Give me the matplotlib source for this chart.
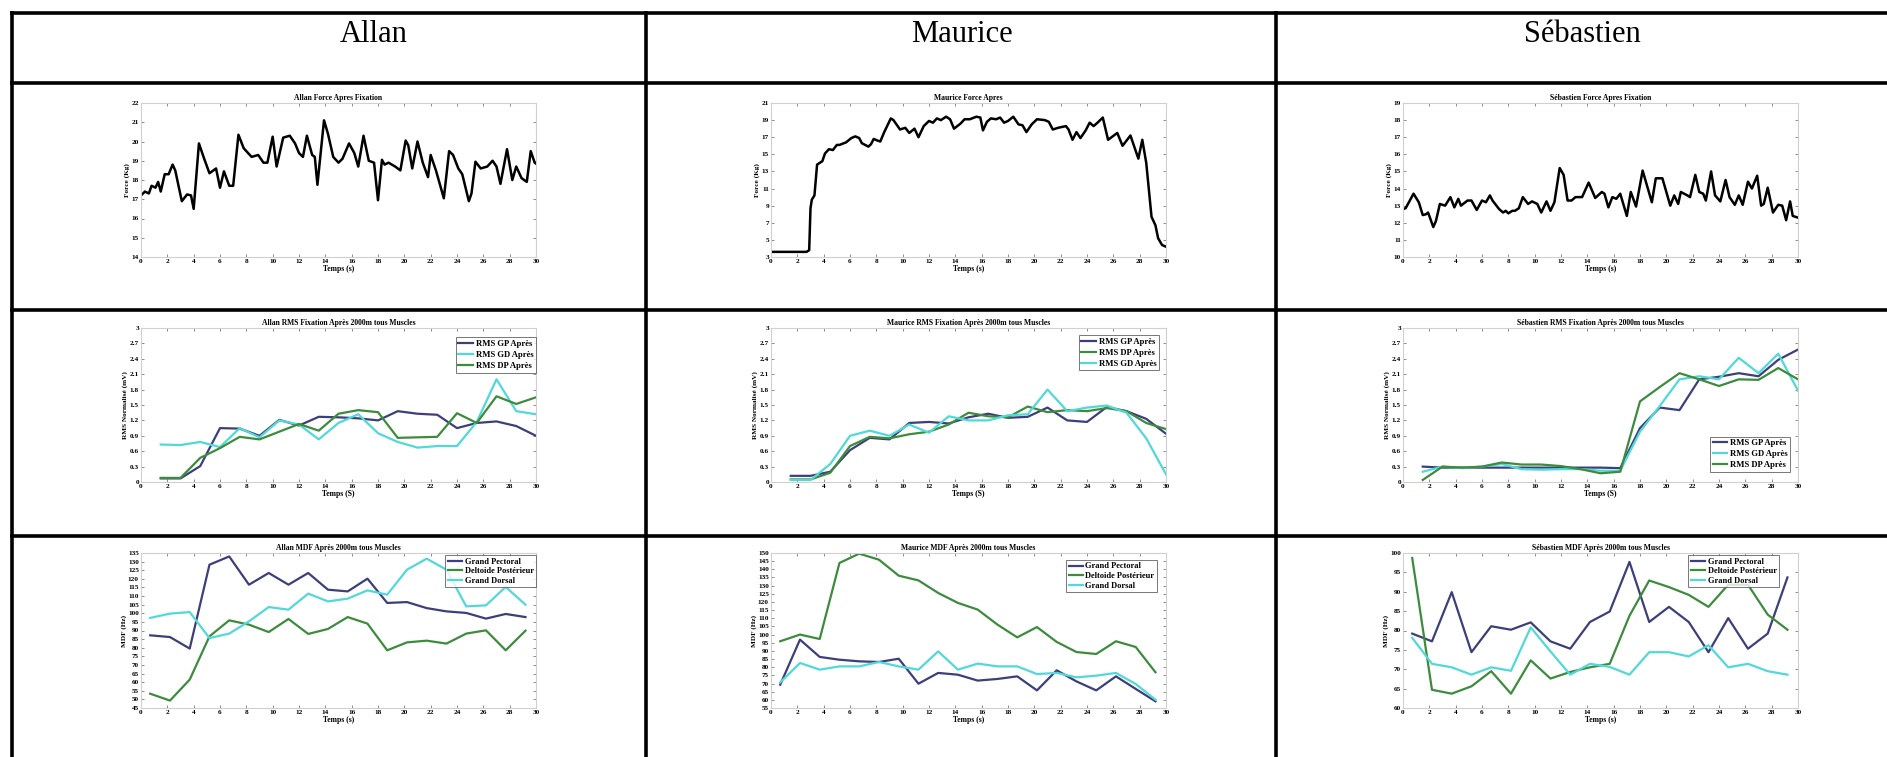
import matplotlib
matplotlib.use('Agg')
import matplotlib.pyplot as plt

# ---------------- DATA ----------------
names = ["Allan", "Maurice", "Sébastien"]

# Force (Kg) vs time (s)
allan_force_t = [0, 0.3, 0.6, 0.8, 1.1, 1.3, 1.5, 1.8, 2.1, 2.4, 2.6, 3.1, 3.5, 3.8, 4.0, 4.4, 4.8, 5.2, 5.7, 6.0,
                 6.3, 6.7, 7.0, 7.4, 7.8, 8.4, 8.9, 9.3, 9.6, 10.0, 10.3, 10.8, 11.3, 11.7, 12.0, 12.3, 12.6, 13.0, 13.2, 13.4,
                 13.9, 14.2, 14.6, 15.0, 15.3, 15.8, 16.2, 16.5, 16.9, 17.3, 17.7, 18.0, 18.3, 18.5, 18.8, 19.3, 19.7, 20.1, 20.3, 20.6,
                 21.0, 21.4, 21.8, 22.0, 22.4, 23.0, 23.4, 23.7, 24.1, 24.4, 24.9, 25.1, 25.4, 25.8, 26.3, 26.7, 27.0, 27.3, 27.8, 28.2,
                 28.5, 28.9, 29.3, 29.6, 29.9, 30.0]
allan_force_v = [17.2, 17.4, 17.3, 17.7, 17.6, 17.9, 17.4, 18.3, 18.3, 18.8, 18.5, 16.9, 17.25, 17.2, 16.5, 19.9, 19.1, 18.35, 18.6, 17.6,
                 18.45, 17.7, 17.7, 20.35, 19.65, 19.2, 19.3, 18.9, 18.9, 20.25, 18.7, 20.2, 20.3, 19.9, 19.4, 19.2, 20.3, 19.3, 19.2, 17.75,
                 21.1, 20.4, 19.2, 18.9, 19.1, 19.9, 19.4, 18.7, 20.3, 19.0, 18.9, 16.95, 19.05, 18.8, 18.9, 18.7, 18.5, 20.05, 19.8, 18.6,
                 20.0, 18.9, 18.15, 19.3, 18.5, 17.05, 19.5, 19.3, 18.6, 18.3, 16.9, 17.3, 18.95, 18.6, 18.7, 19.0, 18.7, 17.8, 19.6, 18.0,
                 18.7, 18.1, 17.9, 19.5, 18.9, 18.85]

maurice_force_t = [0, 2.7, 2.9, 3.0, 3.1, 3.3, 3.5, 3.7, 3.9, 4.1, 4.4, 4.7, 5.0, 5.2, 5.7, 6.1, 6.4, 6.7, 6.9, 7.4,
                   7.6, 7.8, 8.1, 8.3, 8.6, 9.1, 9.3, 9.8, 10.2, 10.5, 10.9, 11.2, 11.6, 12.0, 12.3, 12.6, 12.9, 13.3, 13.6, 13.9,
                   14.4, 14.7, 15.1, 15.6, 15.9, 16.1, 16.4, 16.7, 17.1, 17.4, 17.7, 18.0, 18.4, 18.8, 19.1, 19.4, 19.8, 20.2, 20.8, 21.1,
                   21.4, 21.8, 22.4, 22.6, 22.9, 23.2, 23.5, 23.9, 24.2, 24.5, 24.8, 25.2, 25.6, 26.3, 26.7, 27.3, 27.9, 28.2, 28.5, 28.9,
                   29.2, 29.4, 29.7, 30.0]
maurice_force_v = [3.6, 3.6, 3.8, 8.7, 9.7, 10.2, 13.8, 14.0, 14.2, 15.1, 15.6, 15.5, 16.1, 16.1, 16.4, 16.9, 17.1, 16.9, 16.3, 15.9,
                   16.2, 16.8, 16.6, 16.5, 17.6, 19.2, 19.0, 17.9, 18.1, 17.5, 18.0, 17.0, 18.3, 18.9, 18.7, 19.2, 19.0, 19.4, 19.1, 18.0,
                   18.6, 19.1, 19.1, 19.4, 19.3, 17.8, 18.8, 19.2, 19.1, 19.3, 18.7, 18.9, 19.4, 18.5, 18.4, 17.6, 18.5, 19.1, 19.0, 18.8,
                   17.9, 18.1, 18.3, 17.9, 16.7, 17.6, 16.9, 17.8, 18.7, 18.3, 18.7, 19.3, 16.7, 17.5, 16.0, 17.2, 14.5, 16.7, 14.0, 7.7,
                   6.7, 5.2, 4.4, 4.2]

seb_force_t = [0, 0.2, 0.8, 1.2, 1.5, 1.75, 1.9, 2.0, 2.3, 2.5, 2.8, 3.2, 3.6, 3.9, 4.2, 4.4, 4.9, 5.2, 5.6, 6.0,
               6.3, 6.6, 6.8, 7.3, 7.6, 7.8, 8.0, 8.3, 8.5, 8.8, 9.1, 9.5, 9.8, 10.2, 10.5, 10.9, 11.2, 11.5, 11.9, 12.2,
               12.5, 12.8, 13.1, 13.6, 14.1, 14.6, 15.1, 15.3, 15.6, 15.9, 16.2, 16.5, 17.0, 17.3, 17.7, 18.2, 18.9, 19.2, 19.7, 20.3,
               20.6, 20.9, 21.1, 21.6, 21.8, 22.2, 22.5, 22.8, 23.0, 23.4, 23.7, 24.1, 24.5, 24.8, 25.2, 25.5, 25.8, 26.2, 26.5, 26.9,
               27.2, 27.4, 27.7, 28.1, 28.5, 28.8, 29.1, 29.4, 29.6, 30.0]
seb_force_v = [12.8, 12.85, 13.7, 13.2, 12.45, 12.5, 12.6, 12.4, 11.75, 12.1, 13.1, 13.0, 13.5, 12.9, 13.4, 13.0, 13.3, 13.3, 12.75, 13.3,
               13.2, 13.6, 13.3, 12.8, 12.6, 12.7, 12.55, 12.7, 12.7, 12.85, 13.5, 13.1, 13.25, 13.1, 12.6, 13.25, 12.7, 13.2, 15.2, 14.8,
               13.3, 13.3, 13.5, 13.5, 14.35, 13.45, 13.8, 13.7, 12.9, 13.5, 13.4, 13.7, 12.4, 13.8, 12.95, 15.05, 13.2, 14.6, 14.6, 13.0,
               13.6, 13.1, 13.8, 13.6, 13.5, 14.8, 13.8, 13.7, 13.3, 15.0, 13.6, 13.25, 14.5, 13.5, 13.05, 13.6, 13.05, 14.4, 14.0, 14.75,
               13.0, 13.1, 14.05, 12.6, 13.05, 13.0, 12.15, 13.25, 12.4, 12.3]

# RMS normalised (mV) every 1.5 s
rms_t = [1.5, 3, 4.5, 6, 7.5, 9, 10.5, 12, 13.5, 15, 16.5, 18, 19.5, 21, 22.5, 24, 25.5, 27, 28.5, 30]
allan_rms_gp = [0.07, 0.07, 0.31, 1.05, 1.04, 0.9, 1.21, 1.1, 1.27, 1.26, 1.24, 1.2, 1.38, 1.33, 1.31, 1.05, 1.15, 1.18, 1.09, 0.9]
allan_rms_gd = [0.73, 0.72, 0.78, 0.68, 1.05, 0.87, 1.2, 1.12, 0.83, 1.15, 1.32, 0.95, 0.78, 0.67, 0.7, 0.7, 1.17, 2.0, 1.38, 1.32]
allan_rms_dp = [0.08, 0.08, 0.47, 0.66, 0.88, 0.83, 0.98, 1.13, 1.0, 1.33, 1.4, 1.36, 0.86, 0.87, 0.88, 1.34, 1.15, 1.67, 1.52, 1.65]

maurice_rms_gp = [0.12, 0.12, 0.2, 0.62, 0.86, 0.83, 1.15, 1.17, 1.14, 1.26, 1.33, 1.25, 1.27, 1.45, 1.2, 1.17, 1.46, 1.38, 1.23, 0.94]
maurice_rms_dp = [0.05, 0.05, 0.18, 0.7, 0.88, 0.85, 0.93, 0.98, 1.12, 1.35, 1.28, 1.26, 1.47, 1.36, 1.4, 1.38, 1.44, 1.38, 1.15, 1.03]
maurice_rms_gd = [0.04, 0.04, 0.35, 0.9, 1.0, 0.9, 1.12, 0.96, 1.28, 1.2, 1.2, 1.3, 1.32, 1.8, 1.38, 1.45, 1.49, 1.35, 0.85, 0.15]

seb_rms_gp = [0.3, 0.28, 0.28, 0.28, 0.28, 0.28, 0.28, 0.28, 0.28, 0.28, 0.27, 1.05, 1.45, 1.4, 2.0, 2.05, 2.12, 2.06, 2.38, 2.58]
seb_rms_gd = [0.2, 0.3, 0.27, 0.3, 0.35, 0.25, 0.24, 0.25, 0.25, 0.22, 0.22, 0.98, 1.48, 2.0, 2.06, 2.0, 2.42, 2.12, 2.5, 1.78]
seb_rms_dp = [0.04, 0.3, 0.28, 0.3, 0.38, 0.34, 0.34, 0.31, 0.25, 0.17, 0.2, 1.57, 1.85, 2.12, 2.0, 1.87, 2.0, 1.99, 2.22, 2.0]

# MDF (Hz)
mdf_t = [0.7, 2.2, 3.7, 5.2, 6.7, 8.2, 9.7, 11.2, 12.7, 14.2, 15.7, 17.2, 18.7, 20.2, 21.7, 23.2, 24.7, 26.2, 27.7, 29.2]
allan_mdf_gp = [87.2, 86.2, 79.5, 128.2, 133, 116.6, 123.4, 116.6, 123.4, 113.7, 112.7, 120.1, 106, 106.5, 103, 101.1, 100.2, 96.9, 99.6, 97.8]
allan_mdf_dp = [53.3, 49.3, 61.5, 86.6, 95.9, 93.4, 89.1, 96.7, 88, 90.9, 97.8, 94, 78.5, 83.1, 84.1, 82.4, 88.2, 90.1, 78.5, 89.9]
allan_mdf_gdo = [97.3, 99.8, 100.7, 85.6, 88.2, 95.3, 103.6, 102.1, 111.4, 106.9, 108.5, 113.3, 110.8, 125.3, 131.7, 125.3, 104, 104.6, 115.3, 105]

maurice_mdf_gp = [69.3, 96.9, 86.3, 84.6, 83.6, 83.2, 85.2, 69.9, 76.5, 75.4, 71.8, 72.8, 74.4, 65.8, 78.1, 71.3, 65.8, 74.4, 66.7, 59.1]
maurice_mdf_dp = [95.9, 100, 97.3, 143.9, 149.6, 145.9, 136.1, 133.2, 125.5, 119.4, 115.3, 106.1, 98.3, 104.6, 95.5, 89.3, 88.1, 95.9, 92.4, 76.9]
maurice_mdf_gdo = [70.7, 82.6, 78.5, 80.5, 80.5, 83.2, 80.5, 78.5, 89.7, 78.5, 82.2, 80.5, 80.5, 75.8, 76.5, 73.8, 74.8, 76.5, 69.7, 60.1]

seb_mdf_gp = [79.2, 77.2, 89.9, 74.4, 81.1, 80.2, 82.1, 77.2, 75.3, 82.2, 84.9, 97.7, 82.2, 86.1, 82.2, 74.4, 83.2, 75.3, 79.2, 93.7]
seb_mdf_dp = [98.7, 64.7, 63.7, 65.6, 69.5, 63.7, 72.3, 67.6, 69.3, 70.5, 71.4, 83.8, 92.9, 91.2, 89.2, 86.1, 91.8, 91.8, 84.1, 80.2]
seb_mdf_gdo = [78.1, 71.4, 70.5, 68.6, 70.5, 69.6, 80.8, 74.6, 68.6, 71.4, 70.6, 68.6, 74.4, 74.4, 73.3, 76.2, 70.5, 71.4, 69.5, 68.6]

# tick labels
x_ticks = list(range(0, 31, 2))
rms_ticks = [0, 0.3, 0.6, 0.9, 1.2, 1.5, 1.8, 2.1, 2.4, 2.7, 3]
rms_tick_labels = ["0", "0.3", "0.6", "0.9", "1.2", "1.5", "1.8", "2.1", "2.4", "2.7", "3"]

# ---------------- STYLE / LAYOUT ----------------
W, H = 1887, 757
plt.rcParams['font.family'] = ['Liberation Serif', 'DejaVu Serif']
fig = plt.figure(figsize=(W / 100, H / 100), dpi=100)
fig.patch.set_facecolor('white')

C_GP = '#3d3f7a'
C_GD = '#52d8d8'
C_DP = '#3d8b3d'
FS = 5.5

# table grid (pixel coordinates)
bg = fig.add_axes([0, 0, 1, 1])
bg.set_xlim(0, W)
bg.set_ylim(H, 0)
bg.axis('off')
LW = 2.6
HLINES = [13, 83, 310, 536]
VLINES = [12, 646, 1276]
for yy in HLINES:
    bg.plot([VLINES[0] - 2, W + 5], [yy, yy], color='black', lw=LW, solid_capstyle='butt')
for xx in VLINES:
    bg.plot([xx, xx], [HLINES[0] - 2, H + 5], color='black', lw=LW, solid_capstyle='butt')

header_x = [374, 962, 1582]
for i, nm in enumerate(names):
    bg.text(header_x[i], 35, nm, ha='center', va='center', fontsize=22, family='Liberation Serif')

AX_LEFT = [141, 771, 1403]
AX_W = 395


def add_ax(col, top, bottom):
    return fig.add_axes([AX_LEFT[col] / W, 1 - bottom / H, AX_W / W, (bottom - top) / H])


def style(ax, title, xlabel, ylabel, ylim, yticks, ylabels=None):
    ax.set_xlim(0, 30)
    ax.set_ylim(*ylim)
    ax.set_xticks(x_ticks)
    ax.set_xticklabels([str(v) for v in x_ticks])
    ax.set_yticks(yticks)
    if ylabels is not None:
        ax.set_yticklabels(ylabels)
    ax.set_title(title, fontsize=FS, fontweight='bold', pad=2)
    ax.set_xlabel(xlabel, fontsize=FS, fontweight='bold', labelpad=1)
    ax.set_ylabel(ylabel, fontsize=FS - 0.3, fontweight='bold', labelpad=1)
    ax.tick_params(direction='in', top=True, right=True, length=2.5, width=0.6,
                   labelsize=FS - 0.3, pad=1.5, color='#777777')
    for lab in ax.get_xticklabels() + ax.get_yticklabels():
        lab.set_fontweight('bold')
    for s in ax.spines.values():
        s.set_color('#d0d0d0')
        s.set_linewidth(0.8)


def legend(ax, loc, anchor, size, spacing):
    lg = ax.legend(loc=loc, bbox_to_anchor=anchor, frameon=True, fancybox=False,
                   edgecolor='#555555', handlelength=1.7, borderpad=0.3,
                   labelspacing=spacing, handletextpad=0.3, borderaxespad=0,
                   prop={'weight': 'bold', 'size': size, 'family': 'Liberation Serif'})
    lg.get_frame().set_linewidth(0.7)


# Row 1: force
R1 = (103, 257)
force_sets = [
    (allan_force_t, allan_force_v, "Allan Force Apres Fixation", "Temps (s)", (14, 22), list(range(14, 23))),
    (maurice_force_t, maurice_force_v, "Maurice Force Apres", "Temps (s)", (3, 21), list(range(3, 22, 2))),
    (seb_force_t, seb_force_v, "Sébastien Force Apres Fixation", "Temps (s)", (10, 19), list(range(10, 20))),
]
for i, (t, v, title, xl, yl, yt) in enumerate(force_sets):
    ax = add_ax(i, *R1)
    ax.plot(t, v, color='black', lw=1.8, solid_joinstyle='round')
    style(ax, title, xl, "Force (Kg)", yl, yt)

# Row 2: RMS
R2 = (328, 482)
rms_sets = [
    ("Allan RMS Fixation Après 2000m tous Muscles",
     [(allan_rms_gp, C_GP, "RMS GP Après"), (allan_rms_gd, C_GD, "RMS GD Après"), (allan_rms_dp, C_DP, "RMS DP Après")],
     'upper right', (1.0, 0.94)),
    ("Maurice RMS Fixation Après 2000m tous Muscles",
     [(maurice_rms_gp, C_GP, "RMS GP Après"), (maurice_rms_dp, C_DP, "RMS DP Après"), (maurice_rms_gd, C_GD, "RMS GD Après")],
     'upper right', (0.982, 0.955)),
    ("Sébastien RMS Fixation Après 2000m tous Muscles",
     [(seb_rms_gp, C_GP, "RMS GP Après"), (seb_rms_gd, C_GD, "RMS GD Après"), (seb_rms_dp, C_DP, "RMS DP Après")],
     'lower right', (0.98, 0.065)),
]
for i, (title, series, loc, anchor) in enumerate(rms_sets):
    ax = add_ax(i, *R2)
    for vals, col, lab in series:
        ax.plot(rms_t, vals, color=col, lw=1.6, label=lab)
    style(ax, title, "Temps (S)", "RMS Normalisé (mV)", (0, 3), rms_ticks, rms_tick_labels)
    legend(ax, loc, anchor, 6.2, 0.35)

# Row 3: MDF
R3 = (553, 708)
mdf_sets = [
    ("Allan MDF Après 2000m tous Muscles", allan_mdf_gp, allan_mdf_dp, allan_mdf_gdo,
     (45, 135), list(range(45, 136, 5)), (1.0, 0.987)),
    ("Maurice MDF Après 2000m tous Muscles", maurice_mdf_gp, maurice_mdf_dp, maurice_mdf_gdo,
     (55, 150), list(range(55, 151, 5)), (0.977, 0.955)),
    ("Sébastien MDF Après 2000m tous Muscles", seb_mdf_gp, seb_mdf_dp, seb_mdf_gdo,
     (60, 100), list(range(60, 101, 5)), (0.952, 0.987)),
]
for i, (title, gp, dp, gdo, yl, yt, anchor) in enumerate(mdf_sets):
    ax = add_ax(i, *R3)
    ax.plot(mdf_t, gp, color=C_GP, lw=1.6, label="Grand Pectoral")
    ax.plot(mdf_t, dp, color=C_DP, lw=1.6, label="Deltoide Postérieur")
    ax.plot(mdf_t, gdo, color=C_GD, lw=1.6, label="Grand Dorsal")
    style(ax, title, "Temps (s)", "MDF (Hz)", yl, yt)
    legend(ax, 'upper right', anchor, 6.0, 0.2)

fig.savefig('out.png', dpi=100, facecolor='white')
